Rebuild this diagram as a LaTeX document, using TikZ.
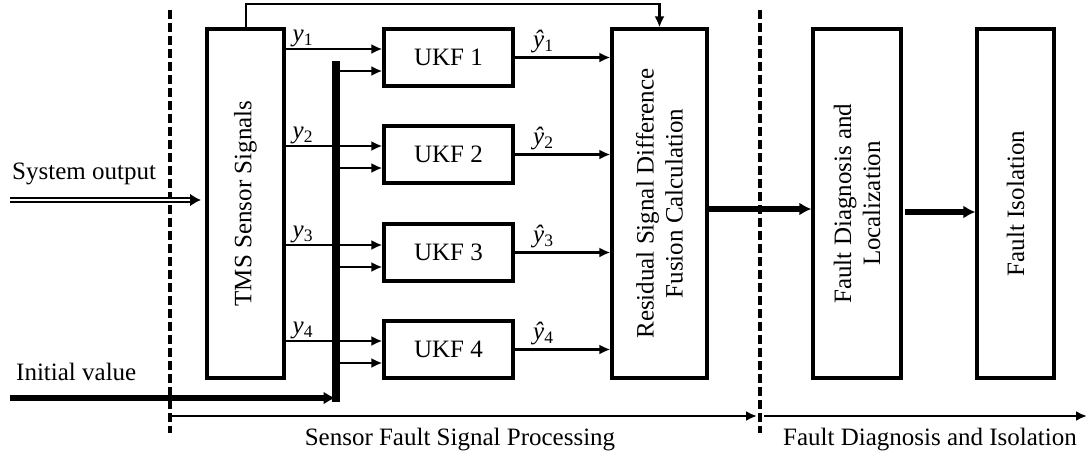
\documentclass[tikz,border=0pt]{standalone}
\usepackage{fontspec}
\setmainfont{Liberation Serif}
\usetikzlibrary{arrows.meta, positioning}

\begin{document}
\begin{tikzpicture}[
  x=1pt, y=-1pt,
  font=\fontsize{25}{29}\selectfont,
  blockbox/.style={draw, line width=3.2pt, minimum width=#1, minimum height=349pt, inner sep=0pt, align=center},
  ukfbox/.style={draw, line width=3.2pt, minimum width=129pt, minimum height=57pt, inner sep=0pt},
  sigarrow/.style={-{Latex[length=11pt, width=10pt]}, line width=2.4pt},
  heavyarrow/.style={-{Latex[length=12pt, width=13pt]}, line width=5.5pt},
  sublabel/.style={anchor=south west, inner sep=1pt},
  phaseline/.style={line width=3.4pt, dash pattern=on 9pt off 4pt},
]
  % === Bounding box ===
  \useasboundingbox (0,0) rectangle (1087,456);

  % === Phase separators ===
  \coordinate (sepAtop) at (170,10);
  \coordinate (sepAbot) at (170,433);
  \coordinate (sepBtop) at (760,10);
  \coordinate (sepBbot) at (760,433);
  \draw[phaseline] (sepAtop) -- (sepAbot);
  \draw[phaseline] (sepBtop) -- (sepBbot);

  % === Blocks ===
  \node[blockbox=77pt] (tms) at (245.5,203.5) {};
  \node[rotate=90] (tmstext) at (tms.center) {TMS Sensor Signals};

  \node[ukfbox] (ukf1) at (448.5,57.5) {UKF 1};
  \node[ukfbox] (ukf2) at (448.5,154.5) {UKF 2};
  \node[ukfbox] (ukf3) at (448.5,252.5) {UKF 3};
  \node[ukfbox] (ukf4) at (448.5,349.5) {UKF 4};

  \node[blockbox=95pt] (resid) at (659.5,203.5) {};
  \node[rotate=90, align=center] (residtext) at (resid.center) {Residual Signal Difference\\Fusion Calculation};

  \node[blockbox=88pt] (diag) at (857,203.5) {};
  \node[rotate=90, align=center] (diagtext) at (diag.center) {Fault Diagnosis and\\Localization};

  \node[blockbox=77pt] (iso) at (1015.5,203.5) {};
  \node[rotate=90] (isotext) at (iso.center) {Fault Isolation};

  % === Initial value bus ===
  \coordinate (bustop) at (335.5,61);
  \coordinate (busbot) at (335.5,402);
  \draw[line width=8pt] (bustop) -- (busbot);

  % === Inputs ===
  \node[anchor=west, inner sep=0pt] (sysout) at (12,174) {System output};
  \coordinate (sysstart) at (10,200);
  \coordinate (sysend) at (201,200);
  \draw[-{Latex[length=11pt, width=13pt]}, double, double distance=2pt, line width=2.4pt]
    (sysstart) -- (sysend);

  \node[anchor=west, inner sep=0pt] (initval) at (16,372) {Initial value};
  \coordinate (initstart) at (10,398);
  \draw[heavyarrow] (initstart) -- (bustop |- initstart);

  % === Sensor signals to UKFs ===
  \foreach \i/\yy/\yb in {1/49/71, 2/146/168, 3/245/267, 4/341/363} {
    \draw[sigarrow] (tms.east |- 0,\yy) -- node[pos=0.05, sublabel] {\textit{y}\textsubscript{\i}} (ukf\i.west |- 0,\yy);
    \draw[sigarrow] (bustop |- 0,\yb) -- (ukf\i.west |- 0,\yb);
    \draw[sigarrow] (ukf\i.east) -- node[pos=0.3, above, inner sep=3pt] {\textit{\^{y}}\textsubscript{\i}} (resid.west |- ukf\i.east);
  }

  % === Feedback to fusion block ===
  \draw[sigarrow] (tms.north) ++(0.5,0) -- (246,4) -| (resid.north);

  % === Diagnosis chain ===
  \draw[heavyarrow] (resid.east |- 0,209) -- (diag.west |- 0,209);
  \draw[heavyarrow] (905,212) -- (iso.west |- 0,212);

  % === Phase arrows ===
  \draw[sigarrow] (sepAbot |- 0,416) -- (757,416);
  \draw[sigarrow] (764,416) -- (1087,416);
  \node[inner sep=0pt] (phaseA) at (460,440) {Sensor Fault Signal Processing};
  \node[inner sep=0pt] (phaseB) at (930,440) {Fault Diagnosis and Isolation};

\end{tikzpicture}
\end{document}
